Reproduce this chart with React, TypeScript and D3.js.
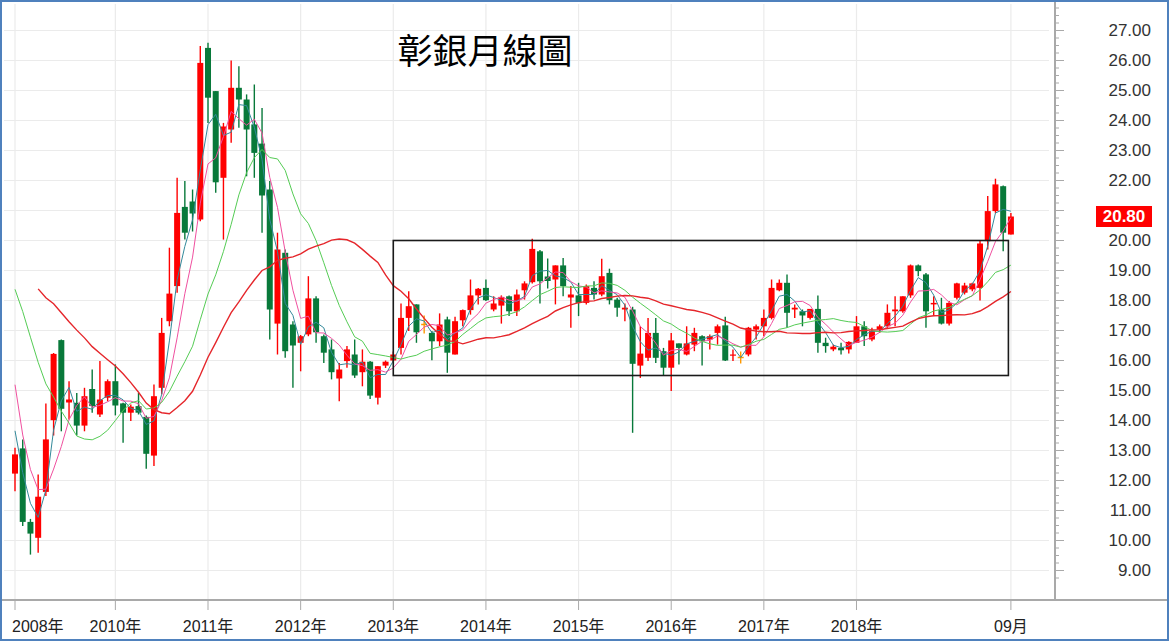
import React from "react";
import * as d3 from "d3";

// Monthly candles, Dec 2008 .. Sep 2019 (130 months)
const START_MONTH = new Date(2008, 11, 1);
const END_MONTH = new Date(2019, 9, 1);

const opens = [
  12.23, 13.07, 10.62, 10.09, 11.62, 14.01, 16.68, 14.6, 14.59, 13.83,
  15.05, 14.2, 14.76, 15.31, 14.57, 14.26, 14.48, 14.12, 12.83, 15.09,
  17.31, 18.48, 21.12, 21.3, 20.7, 26.42, 24.98, 22.09, 23.7, 25.09,
  24.7, 23.87, 23.23, 21.7, 17.23, 19.59, 17.2, 16.59, 16.87, 18.07,
  16.81, 16.37, 15.4, 15.98, 16.2, 15.61, 15.96, 14.76, 15.83, 16.0,
  16.42, 17.42, 17.87, 17.2, 16.92, 16.64, 17.37, 16.2, 17.34, 17.68,
  18.17, 18.42, 17.7, 17.83, 18.14, 17.64, 18.34, 18.61, 19.64, 18.8,
  18.7, 19.17, 18.1, 18.17, 17.92, 18.42, 18.2, 18.92, 18.03, 17.7,
  17.7, 15.83, 16.09, 16.92, 16.31, 15.76, 16.57, 16.2, 16.53, 16.81,
  16.7, 16.92, 17.17, 16.17, 16.1, 16.2, 17.03, 17.14, 17.42, 18.34,
  18.59, 17.7, 17.64, 17.42, 17.72, 16.59, 16.37, 16.42, 16.37, 16.59,
  17.14, 16.7, 17.03, 17.14, 17.64, 17.64, 18.17, 19.17, 18.87, 17.87,
  17.7, 17.23, 18.09, 18.26, 18.37, 18.42, 19.98, 20.98, 21.81, 20.2,
];
const highs = [
  13.09, 13.37, 10.72, 12.2, 14.57, 16.25, 16.7, 15.31, 14.92, 15.09,
  15.7, 15.98, 15.37, 15.87, 14.59, 14.53, 14.92, 14.17, 15.2, 17.42,
  19.76, 22.09, 21.98, 21.7, 26.48, 26.59, 24.98, 23.92, 26.0, 25.81,
  24.87, 25.2, 24.42, 21.98, 20.26, 19.7, 17.31, 16.85, 18.81, 18.14,
  16.87, 16.7, 15.92, 16.48, 16.7, 16.37, 15.98, 15.81, 16.0, 16.3,
  17.9, 18.31, 17.87, 17.5, 16.98, 17.57, 17.46, 17.46, 17.7, 18.7,
  18.42, 18.7, 18.14, 18.17, 18.17, 18.37, 18.64, 20.06, 19.68, 19.4,
  19.17, 19.42, 18.48, 18.59, 18.53, 18.64, 19.39, 19.06, 18.09, 17.9,
  17.79, 17.14, 17.42, 17.42, 16.42, 16.92, 16.57, 17.14, 17.09, 16.84,
  16.87, 17.2, 17.46, 16.37, 16.3, 17.12, 17.2, 17.7, 18.7, 18.7,
  18.87, 17.87, 17.7, 17.72, 18.17, 16.76, 16.53, 16.59, 16.64, 17.48,
  17.31, 17.09, 17.2, 17.87, 18.14, 18.14, 19.2, 19.2, 18.92, 18.14,
  18.09, 17.98, 18.59, 18.59, 18.59, 19.98, 21.48, 22.06, 21.83, 20.92,
];
const lows = [
  11.64, 10.48, 9.53, 9.59, 11.48, 13.5, 13.64, 14.03, 13.5, 13.64,
  14.26, 14.12, 14.64, 14.17, 13.26, 13.98, 14.2, 12.39, 12.48, 14.87,
  17.14, 18.26, 20.03, 20.3, 20.64, 23.92, 21.59, 20.03, 23.26, 23.76,
  22.14, 22.09, 20.26, 16.7, 16.2, 16.09, 15.09, 15.64, 16.81, 16.59,
  15.92, 15.37, 14.64, 15.76, 15.42, 15.14, 14.72, 14.53, 15.75, 15.9,
  16.2, 16.98, 16.59, 16.9, 16.01, 16.48, 15.59, 16.2, 17.14, 17.53,
  17.87, 17.98, 17.64, 17.23, 17.48, 17.48, 18.03, 18.57, 17.9, 18.4,
  17.87, 18.14, 17.09, 17.48, 17.87, 18.03, 18.14, 17.87, 17.46, 17.31,
  13.59, 15.42, 15.98, 15.92, 15.5, 14.98, 15.87, 16.17, 16.31, 15.83,
  16.37, 16.53, 15.98, 15.98, 15.9, 16.14, 16.7, 16.81, 17.37, 18.31,
  17.09, 17.42, 17.14, 17.37, 16.26, 16.26, 16.31, 16.2, 16.23, 16.59,
  16.48, 16.64, 16.92, 17.09, 17.14, 17.59, 18.09, 18.81, 17.09, 17.48,
  17.2, 17.17, 18.03, 18.2, 18.31, 18.0, 19.7, 20.92, 19.64, 20.2,
];
const closes = [
  12.87, 10.62, 10.23, 11.46, 13.37, 16.22, 14.39, 14.7, 13.83, 14.81,
  14.48, 14.7, 15.31, 14.5, 14.26, 14.46, 14.26, 12.89, 14.81, 16.92,
  18.23, 20.92, 20.26, 20.9, 25.92, 24.76, 21.94, 23.8, 25.09, 24.7,
  23.7, 22.92, 21.5, 17.7, 19.7, 16.31, 16.5, 16.81, 18.07, 16.94,
  16.26, 15.61, 15.7, 16.37, 15.5, 15.96, 14.83, 15.81, 15.96, 16.2,
  17.42, 17.81, 16.94, 17.2, 16.64, 17.2, 16.26, 17.31, 17.68, 18.17,
  18.39, 18.01, 17.9, 18.12, 17.64, 18.2, 18.57, 19.72, 18.64, 18.65,
  19.17, 18.48, 18.2, 17.92, 18.48, 18.2, 18.81, 18.01, 17.76, 17.76,
  15.89, 16.23, 16.92, 16.09, 15.76, 16.67, 16.42, 16.57, 16.92, 16.64,
  16.81, 17.14, 16.0, 16.2, 16.1, 17.09, 17.14, 17.42, 18.42, 18.59,
  17.59, 17.76, 17.5, 17.72, 16.59, 16.48, 16.46, 16.34, 16.62, 17.14,
  16.81, 16.98, 17.14, 17.59, 17.7, 18.14, 19.17, 18.98, 17.64, 17.92,
  17.23, 17.92, 18.57, 18.5, 18.57, 19.9, 20.98, 21.87, 20.26, 20.8,
];
// Closes before the visible window (Apr 2007 .. Nov 2008), only used for the moving averages
const preCloses = [
  20.5, 21.0, 21.5, 22.0, 20.5, 21.0, 21.5, 20.0, 20.5, 19.5,
  20.5, 21.5, 22.0, 21.5, 20.0, 19.5, 19.0, 16.0, 14.8, 13.3,
];

const maPeriods = [3, 5, 12, 24];
const maColors = ["#33899a", "#f0509f", "#55cc55", "#e5262b"];
const maWidths = [1, 1, 1, 1.4];

const yTicks = [9, 10, 11, 12, 13, 14, 15, 16, 17, 18, 19, 20, 22, 23, 24, 25, 26, 27];
const gridValues = [9, 10, 11, 12, 13, 14, 15, 16, 17, 18, 19, 20, 21, 22, 23, 24, 25, 26, 27];
const xTickMonths = ["2008-12", "2010-01", "2011-01", "2012-01", "2013-01", "2014-01", "2015-01", "2016-01", "2017-01", "2018-01", "2019-09"];
const xTickLabels = ["2008年", "2010年", "2011年", "2012年", "2013年", "2014年", "2015年", "2016年", "2017年", "2018年", "09月"];

const boxRange = { fromMonth: "2013-01", toMonth: "2019-09", high: 20, low: 15.5 };
const lastPrice = 20.8;
const title = "彰銀月線圖";

const W = 1170;
const H = 642;
const PLOT_RIGHT = 1055;
const AXIS_Y = 600;

const UP = "#ff0000";
const DOWN = "#08793a";
const FLAT = "#ff9900";

export default function App() {
  const months = d3.timeMonth.range(START_MONTH, END_MONTH);
  const fmt = d3.timeFormat("%Y-%m");
  const keys = months.map(fmt);
  const n = closes.length;

  const x = d3.scaleLinear().domain([0, n - 1]).range([15, 1010.9]);
  const y = d3.scaleLinear().domain([9, 27]).range([570.5, 30.5]);

  const all = preCloses.concat(closes);
  const P = preCloses.length;
  const mas = maPeriods.map((k) =>
    closes.map((_, i) => {
      const end = P + i;
      const start = end - k + 1;
      if (start < 0) return null;
      return d3.mean(all.slice(start, end + 1)) as number;
    })
  );
  const line = d3
    .line<number | null>()
    .defined((d) => d !== null)
    .x((_, i) => x(i))
    .y((d) => y(d as number));

  const tickIdx = xTickMonths.map((m) => keys.indexOf(m));
  const bw = 6;

  const bx0 = x(keys.indexOf(boxRange.fromMonth));
  const bx1 = x(keys.indexOf(boxRange.toMonth)) - 2.5;

  const font = "'Liberation Sans', Arial, 'Noto Sans CJK TC', sans-serif";

  return (
    <div style={{ position: "absolute", left: 0, top: 0 }}>
      <style>{"body{margin:0}"}</style>
      <svg width={W} height={H} style={{ display: "block", background: "#fff" }}>
        <defs>
          <clipPath id="plot">
            <rect x={3} y={3} width={PLOT_RIGHT - 4} height={AXIS_Y - 4} />
          </clipPath>
        </defs>
        <rect x={0} y={0} width={W} height={H} fill="#fff" />
        {/* grid */}
        <g stroke="#ebebeb" strokeWidth={1.2}>
          {gridValues.map((v) => (
            <line key={"h" + v} x1={4} x2={PLOT_RIGHT - 6} y1={y(v)} y2={y(v)} />
          ))}
          {tickIdx.map((i, k) => (
            <line key={"v" + k} x1={x(i)} x2={x(i)} y1={4} y2={AXIS_Y - 1} />
          ))}
        </g>
        <g clipPath="url(#plot)">
          {/* candles */}
          {closes.map((c, i) => {
            const o = opens[i];
            const col = c > o ? UP : c < o ? DOWN : FLAT;
            const top = y(Math.max(o, c));
            const bot = y(Math.min(o, c));
            const cx = x(i);
            return (
              <g key={i}>
                <line x1={cx} x2={cx} y1={y(highs[i])} y2={y(lows[i])} stroke={col} strokeWidth={1.4} />
                {c === o ? (
                  <line x1={cx - bw / 2} x2={cx + bw / 2} y1={top} y2={top} stroke={col} strokeWidth={1.5} />
                ) : (
                  <rect x={cx - bw / 2} y={top} width={bw} height={Math.max(1.2, bot - top)} fill={col} />
                )}
              </g>
            );
          })}
          {/* moving averages */}
          {mas.map((m, k) => (
            <path key={k} d={line(m) || ""} fill="none" stroke={maColors[k]} strokeWidth={maWidths[k]} />
          ))}
          {/* range box */}
          <rect
            x={bx0}
            y={y(boxRange.high)}
            width={bx1 - bx0}
            height={y(boxRange.low) - y(boxRange.high)}
            fill="none"
            stroke="#1a1a1a"
            strokeWidth={1.6}
          />
        </g>
        {/* title */}
        <text
          x={485}
          y={48}
          textAnchor="middle"
          dominantBaseline="central"
          fontFamily="'Noto Sans CJK TC', sans-serif"
          fontSize={35}
          fill="#000"
        >
          {title}
        </text>
        {/* right axis */}
        <line x1={PLOT_RIGHT} x2={PLOT_RIGHT} y1={2} y2={AXIS_Y} stroke="#a9a9a9" strokeWidth={2} />
        <g stroke="#a9a9a9" strokeWidth={1}>
          {d3.range(8.75, 27.76, 0.25).map((v) => {
            const major = Math.abs(v - Math.round(v)) < 1e-6;
            return (
              <line key={v} x1={PLOT_RIGHT + 1} x2={PLOT_RIGHT + (major ? 9 : 4)} y1={y(v)} y2={y(v)} />
            );
          })}
        </g>
        <g fontFamily={font} fontSize={17} fill="#333" textAnchor="end">
          {yTicks.map((v) => (
            <text key={v} x={1151} y={y(v)} dominantBaseline="central">
              {v.toFixed(2)}
            </text>
          ))}
        </g>
        <rect x={1096} y={y(lastPrice) - 10.5} width={56} height={21} fill="#ff0000" />
        <text
          x={1124}
          y={y(lastPrice)}
          textAnchor="middle"
          dominantBaseline="central"
          fontFamily={font}
          fontSize={17}
          fontWeight="bold"
          fill="#fff"
        >
          {lastPrice.toFixed(2)}
        </text>
        {/* bottom axis */}
        <line x1={2} x2={W - 2} y1={AXIS_Y} y2={AXIS_Y} stroke="#a9a9a9" strokeWidth={2} />
        <g stroke="#a9a9a9" strokeWidth={1}>
          {tickIdx.map((i, k) => (
            <line key={k} x1={x(i)} x2={x(i)} y1={AXIS_Y + 1} y2={AXIS_Y + 10} />
          ))}
        </g>
        <g fontFamily={font} fontSize={16} fill="#222">
          {tickIdx.map((i, k) => (
            <text
              key={k}
              x={k === 0 ? 12 : x(i)}
              y={626}
              textAnchor={k === 0 ? "start" : "middle"}
              dominantBaseline="central"
            >
              {xTickLabels[k]}
            </text>
          ))}
        </g>
        {/* outer frame */}
        <rect x={1} y={1} width={W - 3} height={H - 3} fill="none" stroke="#4f81bd" strokeWidth={2} />
      </svg>
    </div>
  );
}
